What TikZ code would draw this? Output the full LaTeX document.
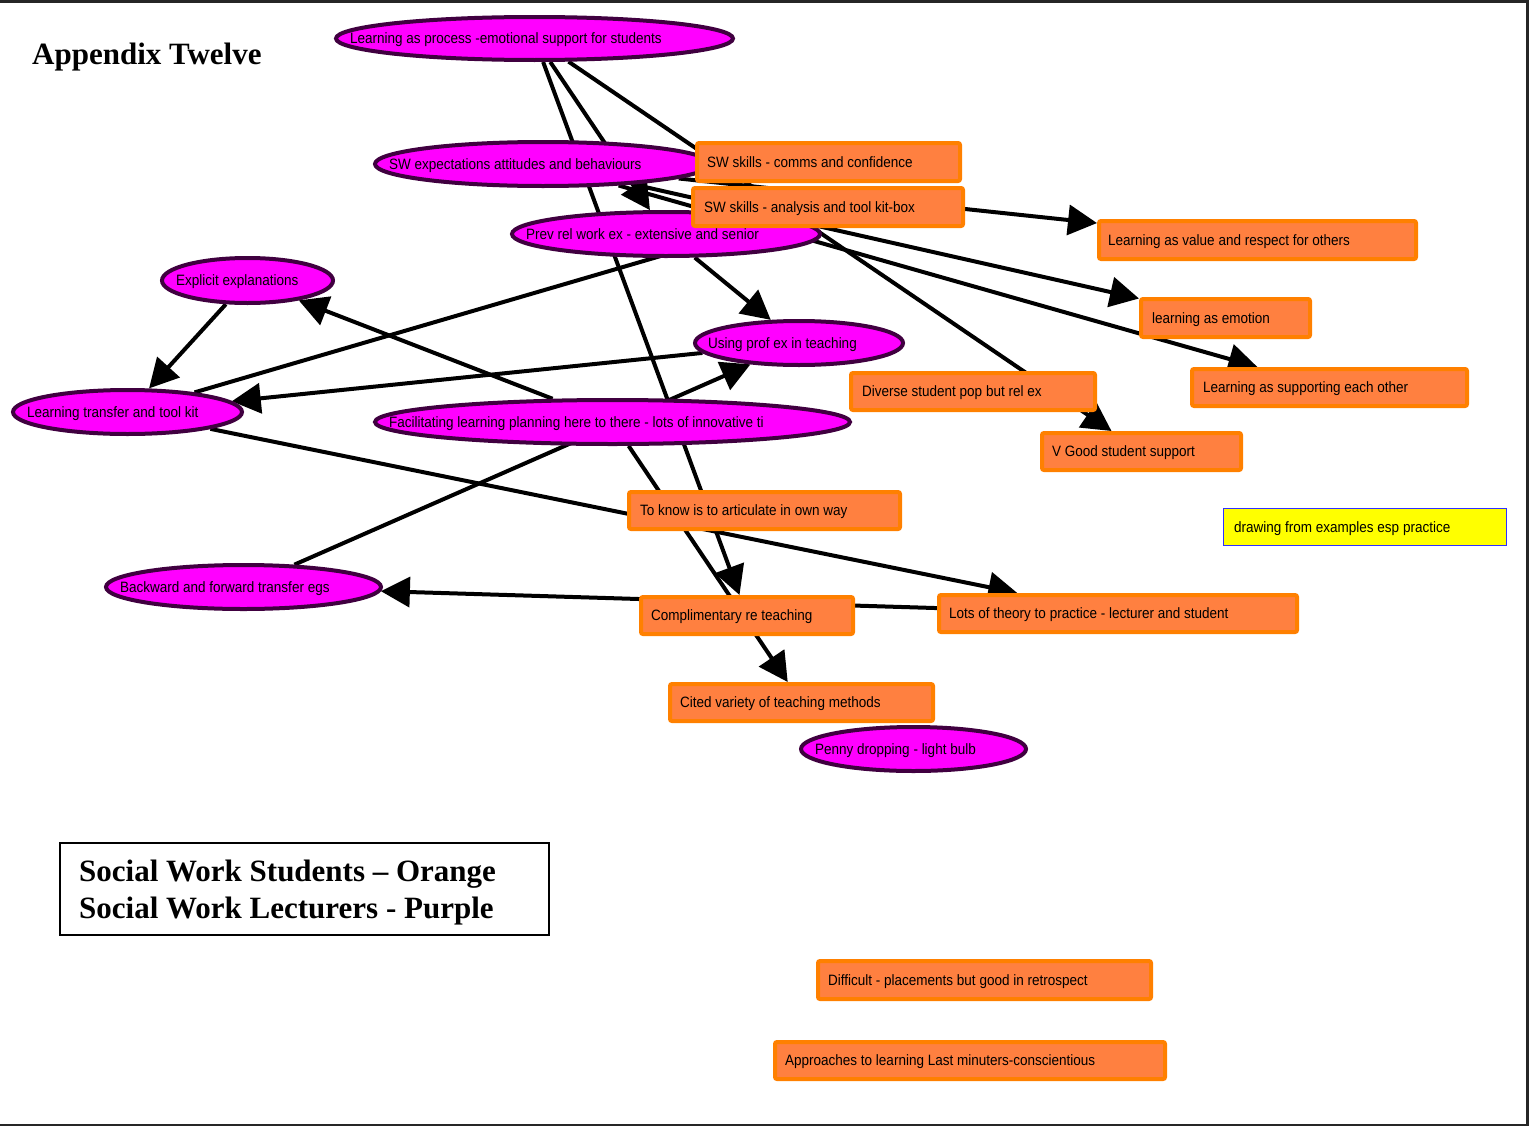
\documentclass[tikz,border=0pt]{standalone}
\usepackage{fontspec}
\setmainfont{Liberation Serif}
\newfontfamily\nodefont[FakeStretch=0.9]{Liberation Sans}
\usetikzlibrary{shapes.geometric,arrows.meta}

\definecolor{lectfill}{HTML}{FF00FF}
\definecolor{lectline}{HTML}{400040}
\definecolor{studfill}{HTML}{FF8040}
\definecolor{studline}{HTML}{FF8000}
\definecolor{notefill}{HTML}{FFFF00}
\definecolor{noteline}{HTML}{3030FF}

\pgfdeclarelayer{paper}
\pgfdeclarelayer{links}
\pgfsetlayers{paper,links,main}

\tikzset{
  lect/.style={ellipse, draw=lectline, fill=lectfill, line width=4pt, inner sep=0pt},
  stud/.style={rectangle, rounded corners=2pt, draw=studline, fill=studfill, line width=4pt, inner sep=0pt},
  note/.style={rectangle, draw=noteline, fill=notefill, line width=1.2pt, inner sep=0pt},
  lbl/.style={anchor=base west, inner sep=0pt, font=\nodefont\fontsize{15}{18}\selectfont, text=black},
  heading/.style={anchor=base west, inner sep=0pt, font=\fontsize{31}{37}\selectfont\bfseries},
  link/.style={line width=4pt, -{Triangle[length=29pt,width=30pt]}},
}

% lecturer theme: name, cx, cy, width, height, text x, text
\newcommand\lecnode[7]{%
  \node[lect, minimum width=#4pt, minimum height=#5pt] (#1) at (#2,#3) {};
  \node[lbl] (#1-t) at (#6,#3+5.4) {#7};}
% student theme: name, cx, cy, width, height, text x, text
\newcommand\stunode[7]{%
  \node[stud, minimum width=#4pt, minimum height=#5pt] (#1) at (#2,#3) {};
  \node[lbl] (#1-t) at (#6,#3+5.4) {#7};}

\begin{document}
\begin{tikzpicture}[x=1pt,y=-1pt]
\useasboundingbox (0,0) rectangle (1529,1127);
\begin{pgfonlayer}{paper}
  \fill[white] (0,0) rectangle (1529,1127);
\end{pgfonlayer}
\draw[line width=2.5pt, black!85] (-5,1.3) rectangle (1527.5,1124.8);

\node[heading] (title) at (32,64) {Appendix Twelve};

% themes
\lecnode{lp}{534.5}{38.5}{397}{43}{350}{Learning as process -emotional support for students}
\lecnode{swe}{543}{164}{336}{44}{389}{SW expectations attitudes and behaviours}
\stunode{scc}{828.5}{162}{263}{38}{707}{SW skills - comms and confidence}
\lecnode{prw}{666}{234}{308}{44}{526}{Prev rel work ex - extensive and senior}
\stunode{sat}{828}{207}{270}{38}{704}{SW skills - analysis and tool kit-box}
\stunode{lvr}{1257.5}{240}{317}{38}{1108}{Learning as value and respect for others}
\lecnode{ee}{247.5}{280.5}{171}{45}{176}{Explicit explanations}
\stunode{le}{1225.5}{318}{169}{38}{1152}{learning as emotion}
\lecnode{up}{799}{343}{208}{44}{708}{Using prof ex in teaching}
\stunode{ls}{1329.5}{387.5}{275}{37}{1203}{Learning as supporting each other}
\stunode{ds}{973}{391.5}{244}{37}{862}{Diverse student pop but rel ex}
\lecnode{lt}{127.5}{412}{229}{44}{27}{Learning transfer and tool kit}
\lecnode{fl}{612.5}{422}{475}{44}{389}{Facilitating learning planning here to there - lots of innovative ti}
\stunode{vg}{1141.5}{451.5}{199}{37}{1052}{V Good student support}
\stunode{tk}{764.5}{510.5}{271}{37}{640}{To know is to articulate in own way}
\node[note, minimum width=283pt, minimum height=37pt] (dr) at (1365,527) {};
\node[lbl] (dr-t) at (1234,532.4) {drawing from examples esp practice};
\lecnode{bf}{243.5}{587}{275}{44}{120}{Backward and forward transfer egs}
\stunode{cr}{747}{615.5}{212}{37}{651}{Complimentary re teaching}
\stunode{ltp}{1118}{613.5}{358}{37}{949}{Lots of theory to practice - lecturer and student}
\stunode{cv}{801.5}{702.5}{263}{37}{680}{Cited variety of teaching methods}
\lecnode{pd}{913.5}{749}{225}{44}{815}{Penny dropping - light bulb}
\stunode{dp}{984.5}{980}{333}{38}{828}{Difficult - placements but good in retrospect}
\stunode{al}{970}{1060.5}{390}{37}{785}{Approaches to learning Last minuters-conscientious}

% key
\node[draw=black, line width=2pt, minimum width=489pt, minimum height=92pt, inner sep=0pt] (key) at (304.5,889) {};
\node[heading] (key-a) at (79,881.5) {Social Work Students – Orange};
\node[heading] (key-b) at (79,918.5) {Social Work Lecturers - Purple};

% connectors, kept beneath the themes
\begin{pgfonlayer}{links}
  \draw[link] (lp) -- (cr);
  \draw[link] (lp) -- (prw);
  \draw[link] (lp) -- (vg);
  \draw[link] (swe) -- (lvr);
  \draw[link] (swe) -- (le);
  \draw[link] (swe) -- (ls);
  \draw[link] (prw) -- (up);
  \draw[link] (lt) -- (sat);
  \draw[link] (ee) -- (lt);
  \draw[link] (fl) -- (ee);
  \draw[link] (up) -- (lt);
  \draw[link] (bf) -- (up);
  \draw[link] (lt) -- (ltp);
  \draw[link] (ltp) -- (bf);
  \draw[link] (fl) -- (cv);
\end{pgfonlayer}
\end{tikzpicture}
\end{document}
